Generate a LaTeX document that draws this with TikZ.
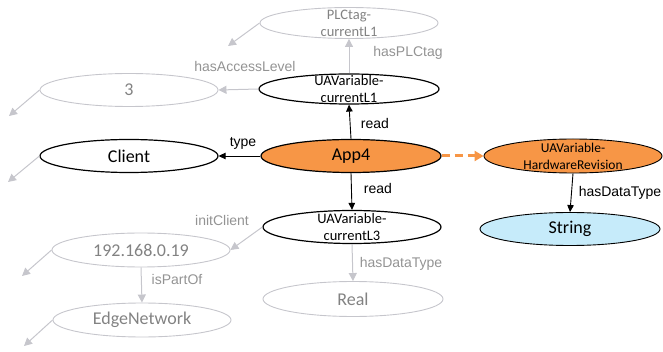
\documentclass[tikz,border=0pt]{standalone}
\usepackage{fontspec}
\setmainfont{Carlito}
\newfontfamily\lblfont{Liberation Sans}
\usetikzlibrary{arrows.meta,shapes.geometric}
\definecolor{orng}{HTML}{F79646}
\definecolor{lblue}{HTML}{C6EBFA}
\definecolor{lgray}{HTML}{C6C6CC}
\definecolor{tgray}{HTML}{828282}
\definecolor{lbgray}{HTML}{939393}
\begin{document}
\begin{tikzpicture}[x=1pt,y=-1pt,
  nd/.style={ellipse, draw=black, line width=1.2pt, inner sep=0pt,
    minimum width=178pt, minimum height=32pt, font=\fontsize{18}{20}\selectfont},
  gnd/.style={nd, draw=lgray, line width=0.9pt, text=tgray},
  twol/.style={font=\fontsize{14.5}{17}\selectfont, align=center, inner sep=0pt},
  gtwol/.style={twol, text=tgray},
  blk/.style={draw=black, line width=0.9pt, -{Triangle[width=6.5pt,length=7pt]}},
  gry/.style={draw=lgray, line width=1pt, -{Triangle[width=8pt,length=8pt]}},
  lbl/.style={font=\lblfont\fontsize{14}{16}\selectfont, inner sep=0pt},
  glbl/.style={lbl, text=lbgray},
]
\useasboundingbox (0,0) rectangle (663,352);

% nodes
\node[gnd, minimum height=31pt, label={[gtwol]center:{PLCtag-\\currentL1}}] (plc) at (349,23) {};
\node[nd, minimum width=180pt, minimum height=30pt, label={[twol]center:{UAVariable-\\currentL1}}] (cl1) at (349,89) {};
\node[gnd, minimum height=33pt] (three) at (129,90) {3};
\node[nd, minimum height=33pt] (client) at (129,156) {Client};
\node[nd, fill=orng, minimum width=180pt, minimum height=33pt] (app) at (351,156) {App4};
\node[nd, fill=orng, minimum height=34pt, line width=0.9pt, label={[twol, font=\fontsize{13.5}{17}\selectfont]center:{UAVariable-\\HardwareRevision}}] (hw) at (573,156) {};
\node[nd, fill=lblue, minimum width=180pt, minimum height=33pt, line width=0.9pt] (str) at (570,229) {String};
\node[nd, minimum height=33pt, label={[twol]center:{UAVariable-\\currentL3}}] (cl3) at (352,227) {};
\node[gnd, minimum width=180pt, minimum height=35pt] (real) at (353,299) {Real};
\node[gnd, minimum height=34pt] (ip) at (141,250) {192.168.0.19};
\node[gnd, minimum height=34pt] (edge) at (142,320) {EdgeNetwork};

% free ends of stub arrows
\coordinate (plcs) at (228,46);
\coordinate (threes) at (9,116);
\coordinate (clients) at (8,182);
\coordinate (ips) at (22,276);
\coordinate (edges) at (24,346);

\draw[gry] (plc.west) -- (plcs);
\draw[gry] (three.west) -- (threes);
\draw[gry] (client.west) -- (clients);
\draw[gry] (ip.west) -- (ips);
\draw[gry] (edge.west) -- (edges);

% connectors
\draw[gry] (cl1.north) -- (plc.south) node[glbl] (l1) at (408,53) {hasPLCtag};
\draw[gry] (cl1.west) -- (three.east) node[glbl] (l2) at (245,66) {hasAccessLevel};
\draw[blk] (app.north) -- (cl1.south) node[lbl] (l3) at (375,123) {read};
\draw[blk] (app.west) -- (client.east) node[lbl] (l4) at (243,143) {type};
\draw[blk] (app.south) -- (cl3.north) node[lbl] (l5) at (378,188) {read};
\draw[gry] (cl3.west) -- (ip.east) node[glbl] (l6) at (222,220) {initClient};
\draw[gry] (cl3.south) -- (real.north) node[glbl] (l7) at (401,264) {hasDataType};
\draw[gry] (ip.south) -- (edge.north) node[glbl] (l8) at (177,279) {isPartOf};
\draw[draw=orng, line width=3pt, dash pattern=on 8pt off 5pt,
  -{Triangle[width=10pt,length=9pt]}] (app.east) -- (hw.west);
\draw[blk] (hw.south) -- (str.north) node[lbl] (l9) at (620,193) {hasDataType};
\end{tikzpicture}
\end{document}
